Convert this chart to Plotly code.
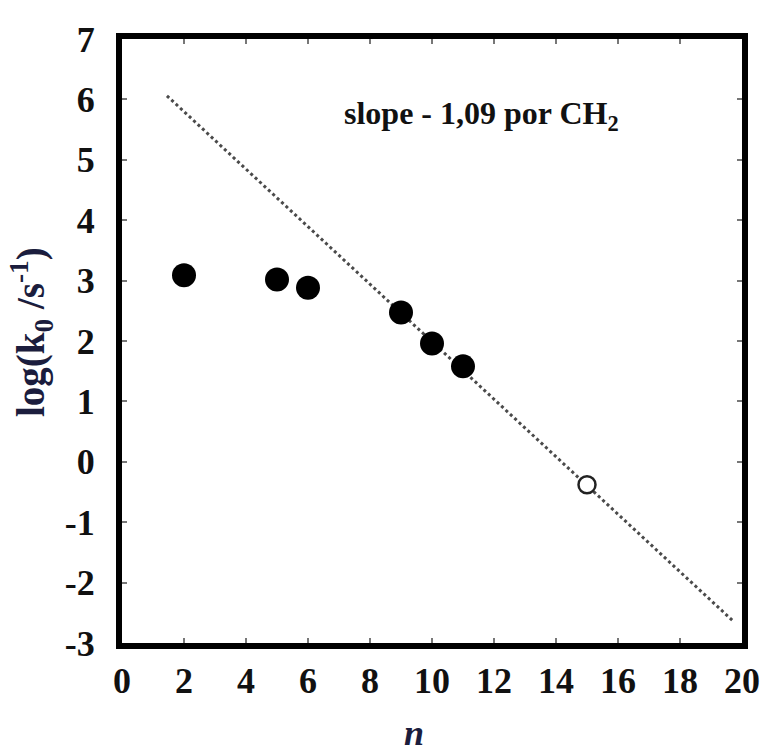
import plotly.graph_objects as go

# Data
n_filled = [2, 5, 6, 9, 10, 11]
logk_filled = [3.09, 3.02, 2.88, 2.47, 1.96, 1.58]
n_open = [15]
logk_open = [-0.38]
fit_n = [1.45, 19.7]
fit_logk = [6.06, -2.63]

x_ticks = [0, 2, 4, 6, 8, 10, 12, 14, 16, 18, 20]
y_ticks = [-3, -2, -1, 0, 1, 2, 3, 4, 5, 6, 7]

FONT = "Liberation Serif"
TITLE_COLOR = "#1b1d3d"

fig = go.Figure()
fig.add_trace(go.Scatter(
    x=fit_n, y=fit_logk, mode="lines",
    line=dict(color="#4a4a4a", width=3, dash="dot"),
    showlegend=False, hoverinfo="skip"))
fig.add_trace(go.Scatter(
    x=n_filled, y=logk_filled, mode="markers",
    marker=dict(color="black", size=24, line=dict(width=0)),
    showlegend=False))
fig.add_trace(go.Scatter(
    x=n_open, y=logk_open, mode="markers",
    marker=dict(color="white", size=17, line=dict(color="#222", width=2.5)),
    showlegend=False))

axis_common = dict(
    showgrid=False, zeroline=False, showline=True, linecolor="black",
    linewidth=6, mirror="allticks", ticks="inside", ticklen=5, tickwidth=2,
    tickcolor="#777",
    tickfont=dict(family=FONT, size=36, color="#111", weight="bold"),
)

fig.update_layout(
    width=771, height=749,
    margin=dict(l=122, r=29, t=39, b=106),
    paper_bgcolor="white", plot_bgcolor="white",
    xaxis=dict(range=[0, 20], tickvals=x_ticks,
               ticktext=[str(v) for v in x_ticks], ticklabelstandoff=1,
               **axis_common),
    yaxis=dict(range=[-3, 7], tickvals=y_ticks,
               ticktext=[str(v) for v in y_ticks], ticklabelstandoff=14,
               **axis_common),
    annotations=[
        dict(text="<b>slope - 1,09 por CH<sub>2</sub></b>", x=11.6, y=5.74,
             xref="x", yref="y", showarrow=False,
             font=dict(family=FONT, size=32, color="#111")),
        dict(text="<b>log(k<sub>0</sub> /s<sup>-1</sup>)</b>", textangle=-90,
             x=-(122 - 31) / 620, y=(643 - 332) / 604, xref="paper", yref="paper",
             xanchor="center", yanchor="middle", showarrow=False,
             font=dict(family=FONT, size=39, color=TITLE_COLOR)),
        dict(text="<b><i>n</i></b>", x=(414 - 122) / 620, y=-(733 - 643) / 604,
             xref="paper", yref="paper", xanchor="center", yanchor="middle",
             showarrow=False,
             font=dict(family=FONT, size=36, color=TITLE_COLOR)),
    ],
)

fig.write_html("out.html")
